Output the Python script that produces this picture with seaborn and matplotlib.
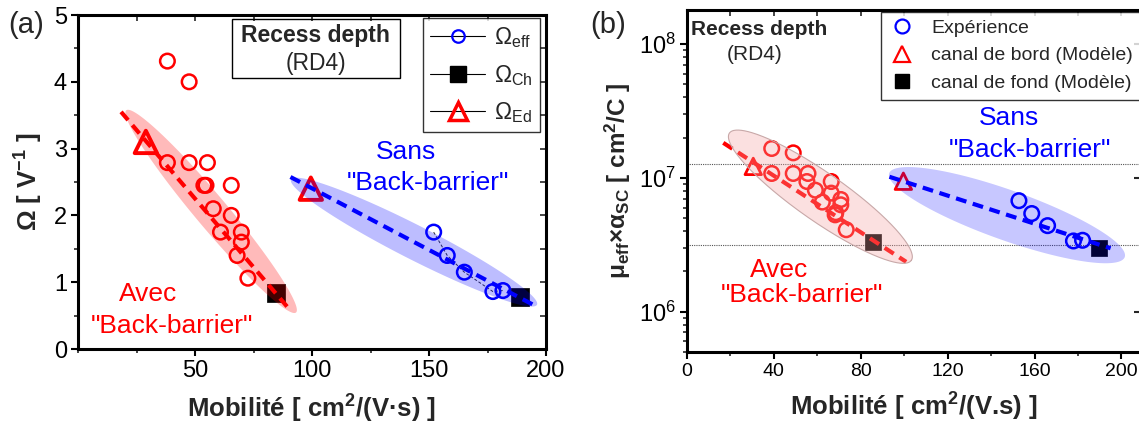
import numpy as np
import pandas as pd
import matplotlib
matplotlib.use("Agg")
import matplotlib.pyplot as plt
from matplotlib.lines import Line2D
from matplotlib.patches import Rectangle
import matplotlib.ticker as mticker
import seaborn as sns

# ---------------- data: panel (a) ----------------
mob_red_a = [38.2, 47.5, 38.2, 47.5, 55.3, 54.7, 53.8, 65.5, 57.8, 65.5, 60.9, 69.8, 69.8, 68.0, 72.6]
omega_red_a = [4.31, 4.00, 2.79, 2.79, 2.79, 2.45, 2.45, 2.45, 2.10, 2.00, 1.75, 1.75, 1.60, 1.40, 1.06]
mob_blue_a = [152.0, 157.8, 165.1, 177.3, 181.6]
omega_blue_a = [1.75, 1.40, 1.15, 0.86, 0.875]
mob_ed_a = [29.0, 99.5]
omega_ed_a = [3.10, 2.40]
mob_ch_a = [84.6, 189.0]
omega_ch_a = [0.835, 0.785]
fit_red_a_x = [18.4, 90.8]
fit_red_a_y = [3.55, 0.575]
fit_blue_a_x = [90.8, 196.0]
fit_blue_a_y = [2.575, 0.635]

# ---------------- data: panel (b) ----------------
mob_red_b = [39.0, 48.9, 39.0, 48.9, 55.7, 55.2, 59.1, 66.4, 66.4, 62.3, 70.8, 70.8, 68.5, 68.2, 73.3]
mu_red_b = [1.66e7, 1.54e7, 1.08e7, 1.08e7, 1.08e7, 9.4e6, 8.1e6, 9.4e6, 7.7e6, 6.6e6, 6.9e6, 6.3e6, 5.5e6, 5.3e6, 4.1e6]
mob_blue_b = [152.8, 158.7, 166.0, 177.9, 182.1]
mu_blue_b = [6.76e6, 5.42e6, 4.40e6, 3.38e6, 3.42e6]
mob_ed_b = [30.5, 99.6]
mu_ed_b = [1.22e7, 9.45e6]
mob_ch_b = [85.4, 189.6]
mu_ch_b = [3.34e6, 3.01e6]
fit_red_b_x = [16.7, 100.9]
fit_red_b_y = [1.83e7, 2.36e6]
fit_blue_b_x = [93.2, 195.0]
fit_blue_b_y = [1.02e7, 2.98e6]
hlines_b = [1.27e7, 3.13e6]

# ---------------- style ----------------
sns.set_theme(style="ticks")
plt.rcParams["font.family"] = ["Liberation Sans", "DejaVu Sans"]
plt.rcParams["mathtext.fontset"] = "custom"
plt.rcParams["mathtext.rm"] = "Liberation Sans"
plt.rcParams["mathtext.it"] = "Liberation Sans:italic"
plt.rcParams["mathtext.bf"] = "Liberation Sans:bold"
plt.rcParams["axes.linewidth"] = 2.0
plt.rcParams["axes.edgecolor"] = "black"

fig = plt.figure(figsize=(11.39, 4.32), dpi=100)
axA = fig.add_axes([78 / 1139, 1 - 349 / 432, (546 - 78) / 1139, (349 - 15) / 432])
axB = fig.add_axes([687 / 1139, 1 - 352 / 432, (1141 - 687) / 1139, (352 - 10) / 432])


def add_ellipse(ax, cx, cy, a_px, b_px, ang_deg, color, alpha, ec="none", lw=0.8):
    c = ax.transData.transform((cx, cy))
    t = np.linspace(0, 2 * np.pi, 300)
    th = np.deg2rad(ang_deg)
    ex = a_px * np.cos(t)
    ey = b_px * np.sin(t)
    px = c[0] + ex * np.cos(th) - ey * np.sin(th)
    py = c[1] + ex * np.sin(th) + ey * np.cos(th)
    d = ax.transData.inverted().transform(np.column_stack([px, py]))
    ax.fill(d[:, 0], d[:, 1], facecolor=color, alpha=alpha, edgecolor="none", zorder=5)
    if ec != "none":
        ax.plot(d[:, 0], d[:, 1], color=ec, lw=lw, zorder=5)


def style_axes(ax, labelsize):
    ax.tick_params(axis="both", which="major", direction="out", length=5, width=1.5,
                   labelsize=labelsize, colors="black", pad=3)
    ax.tick_params(axis="both", which="minor", direction="out", length=3, width=1.2)
    for s in ax.spines.values():
        s.set_linewidth(2.2)
        s.set_color("black")
    ax.grid(False)


# ================= Panel (a) =================
ax = axA
ax.set_xlim(0, 200)
ax.set_ylim(0, 5)
ax.xaxis.set_major_locator(mticker.FixedLocator([50, 100, 150, 200]))
ax.xaxis.set_minor_locator(mticker.MultipleLocator(25))
ax.yaxis.set_major_locator(mticker.MultipleLocator(1))
ax.yaxis.set_minor_locator(mticker.MultipleLocator(0.5))
style_axes(ax, 17)
secx = ax.secondary_xaxis("top")
secx.set_xticks([50, 100, 150, 200])
secx.xaxis.set_minor_locator(mticker.MultipleLocator(25))
secx.tick_params(which="both", direction="in", labeltop=False, length=4, width=1.2)
secy = ax.secondary_yaxis("right")
secy.set_yticks([1, 2, 3, 4])
secy.yaxis.set_minor_locator(mticker.MultipleLocator(0.5))
secy.tick_params(which="both", direction="in", labelright=False, length=4, width=1.2)

df = pd.DataFrame({"x": mob_blue_a, "y": omega_blue_a})
sns.lineplot(data=df, x="x", y="y", ax=ax, color="#333333", lw=0.7, linestyle=(0, (3, 2)), zorder=2)
sns.scatterplot(x=mob_red_a, y=omega_red_a, ax=ax, marker="o", s=110, facecolor="none",
                edgecolor="red", linewidth=1.8, zorder=3)
sns.scatterplot(x=mob_blue_a, y=omega_blue_a, ax=ax, marker="o", s=110, facecolor="none",
                edgecolor="blue", linewidth=1.8, zorder=3)
sns.scatterplot(x=mob_ed_a, y=omega_ed_a, ax=ax, marker="^", s=260, facecolor="none",
                edgecolor="red", linewidth=2.8, zorder=3)
sns.scatterplot(x=mob_ch_a, y=omega_ch_a, ax=ax, marker="s", s=170, color="black",
                edgecolor="black", linewidth=0.5, zorder=3)
sns.lineplot(x=fit_red_a_x, y=fit_red_a_y, ax=ax, color="red", lw=3, linestyle=(0, (2.6, 1.6)), zorder=4)
sns.lineplot(x=fit_blue_a_x, y=fit_blue_a_y, ax=ax, color="blue", lw=3, linestyle=(0, (2.6, 1.6)), zorder=4)
add_ellipse(ax, 56.9, 2.06, 132, 16, -50, "red", 0.27)
add_ellipse(ax, 143.6, 1.6, 138, 17, -27, "blue", 0.26)

ax.set_xlabel("Mobilité [ cm$^{\\mathbf{2}}$/(V·s) ]", fontsize=18.5, fontweight="bold", labelpad=8)
ax.set_ylabel("Ω [ V$^{\\mathbf{-1}}$ ]", fontsize=18.5, fontweight="bold", labelpad=6)

ax.add_patch(Rectangle((0.329, 0.81), 0.359, 0.177, transform=ax.transAxes, fill=False,
                       edgecolor="black", lw=1.0, zorder=6))
ax.text(0.508, 0.938, "Recess depth", transform=ax.transAxes, ha="center", va="center",
        fontsize=16.5, fontweight="bold", zorder=7)
ax.text(0.508, 0.855, "(RD4)", transform=ax.transAxes, ha="center", va="center",
        fontsize=16.5, zorder=7)

ax.text(140, 2.95, "Sans", color="blue", fontsize=19, ha="center", va="center", zorder=7)
ax.text(149.5, 2.48, '"Back-barrier"', color="blue", fontsize=19, ha="center", va="center", zorder=7)
ax.text(30, 0.83, "Avec", color="red", fontsize=19, ha="center", va="center", zorder=7)
ax.text(40, 0.35, '"Back-barrier"', color="red", fontsize=19, ha="center", va="center", zorder=7)

hA = [Line2D([0], [0], color="black", lw=0.8, marker="o", ms=9, mfc="none", mec="blue", mew=1.6),
      Line2D([0], [0], color="black", lw=0.8, marker="s", ms=11, mfc="black", mec="black"),
      Line2D([0], [0], color="black", lw=0.8, marker="^", ms=13, mfc="none", mec="red", mew=2.5)]
lA = ["Ω$_{\\mathrm{eff}}$", "Ω$_{\\mathrm{Ch}}$", "Ω$_{\\mathrm{Ed}}$"]
legA = ax.legend(hA, lA, loc="upper right", bbox_to_anchor=(0.987, 0.99), borderaxespad=0,
                 fontsize=16.5, frameon=True, fancybox=False, edgecolor="black", handlelength=2.4,
                 labelspacing=0.55, borderpad=0.3, handletextpad=0.4)
legA.get_frame().set_linewidth(1.0)
legA.set_zorder(8)

# ================= Panel (b) =================
ax = axB
ax.set_yscale("log")
ax.set_xlim(0, 209)
ax.set_ylim(5e5, 1.8e8)
ax.xaxis.set_major_locator(mticker.MultipleLocator(40))
ax.xaxis.set_minor_locator(mticker.MultipleLocator(20))
ax.yaxis.set_major_locator(mticker.LogLocator(base=10, numticks=10))
ax.yaxis.set_minor_locator(mticker.LogLocator(base=10, subs=np.arange(2, 10), numticks=20))
ax.yaxis.set_minor_formatter(mticker.NullFormatter())
style_axes(ax, 14)
ax.tick_params(axis="y", which="major", labelsize=17)
secxb = ax.secondary_xaxis("top")
secxb.xaxis.set_major_locator(mticker.MultipleLocator(40))
secxb.xaxis.set_minor_locator(mticker.MultipleLocator(20))
secxb.tick_params(which="both", direction="in", labeltop=False, length=4, width=1.2)
secyb = ax.secondary_yaxis("right")
secyb.set_yscale("log")
secyb.tick_params(which="major", direction="in", labelright=False, length=5, width=1.5)
secyb.tick_params(which="minor", length=0)

for h in hlines_b:
    ax.axhline(h, color="#555555", lw=0.8, linestyle=(0, (1, 1)), zorder=1)

sns.scatterplot(x=mob_red_b, y=mu_red_b, ax=ax, marker="o", s=110, facecolor="none",
                edgecolor="red", linewidth=1.8, zorder=3)
sns.scatterplot(x=mob_blue_b, y=mu_blue_b, ax=ax, marker="o", s=110, facecolor="none",
                edgecolor="blue", linewidth=1.8, zorder=3)
sns.scatterplot(x=mob_ed_b, y=mu_ed_b, ax=ax, marker="^", s=140, facecolor="none",
                edgecolor="red", linewidth=2.0, zorder=3)
sns.scatterplot(x=mob_ch_b, y=mu_ch_b, ax=ax, marker="s", s=120, color="black",
                edgecolor="black", linewidth=0.5, zorder=3)
sns.lineplot(x=fit_red_b_x, y=fit_red_b_y, ax=ax, color="red", lw=3, linestyle=(0, (2.6, 1.6)), zorder=4)
sns.lineplot(x=fit_blue_b_x, y=fit_blue_b_y, ax=ax, color="blue", lw=3, linestyle=(0, (2.6, 1.6)), zorder=4)
add_ellipse(ax, 61.4, 7.24e6, 111, 24, -35, "#f4a0a0", 0.32, ec="#c8a8a8", lw=0.8)
add_ellipse(ax, 147.3, 5.27e6, 125, 25, -19.6, "blue", 0.22)

ax.set_xlabel("Mobilité [ cm$^{\\mathbf{2}}$/(V.s) ]", fontsize=18.5, fontweight="bold", labelpad=8)
ax.set_ylabel("μ$_{\\mathbf{eff}}$×α$_{\\mathbf{SC}}$ [ cm$^{\\mathbf{2}}$/C ]", fontsize=17.5,
              fontweight="bold", labelpad=4)

ax.text(0.008, 0.943, "Recess depth", transform=ax.transAxes, ha="left", va="center",
        fontsize=15, fontweight="bold", zorder=7)
ax.text(0.15, 0.87, "(RD4)", transform=ax.transAxes, ha="center", va="center",
        fontsize=15, zorder=7)
ax.text(148, 2.8e7, "Sans", color="blue", fontsize=19, ha="center", va="center", zorder=7)
ax.text(158, 1.63e7, '"Back-barrier"', color="blue", fontsize=19, ha="center", va="center", zorder=7)
ax.text(42.3, 2.04e6, "Avec", color="red", fontsize=19, ha="center", va="center", zorder=7)
ax.text(52.7, 1.33e6, '"Back-barrier"', color="red", fontsize=19, ha="center", va="center", zorder=7)

hB = [Line2D([0], [0], ls="none", marker="o", ms=10, mfc="none", mec="blue", mew=1.6),
      Line2D([0], [0], ls="none", marker="^", ms=11, mfc="none", mec="red", mew=1.6),
      Line2D([0], [0], ls="none", marker="s", ms=10, mfc="black", mec="black")]
lB = ["Expérience", "canal de bord (Modèle)", "canal de fond (Modèle)"]
legB = ax.legend(hB, lB, loc="upper right", bbox_to_anchor=(1.0, 0.995), borderaxespad=0,
                 fontsize=14, frameon=True, fancybox=False, edgecolor="black", handlelength=1.4,
                 labelspacing=0.5, borderpad=0.4, handletextpad=0.8)
legB.get_frame().set_linewidth(1.0)
legB.set_zorder(8)

fig.text(8 / 1139, 1 - 25 / 432, "(a)", fontsize=21, ha="left", va="center")
fig.text(590 / 1139, 1 - 25 / 432, "(b)", fontsize=21, ha="left", va="center")

fig.savefig("out.png", dpi=100)
